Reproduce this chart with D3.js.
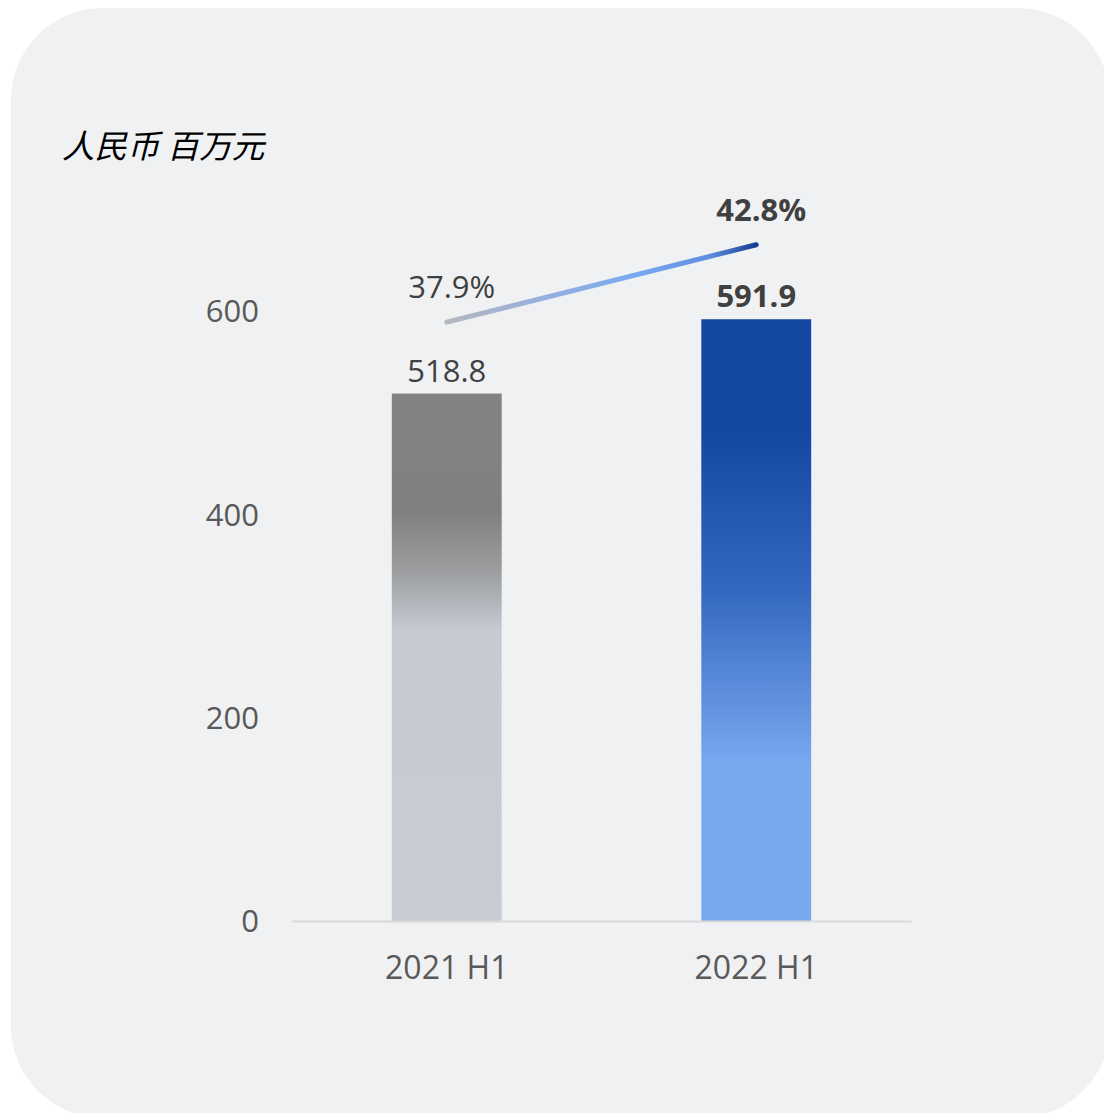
<!DOCTYPE html>
<html>
<head>
<meta charset="utf-8">
<script src="https://cdn.jsdelivr.net/npm/d3@7"></script>
<style>
  html, body { margin: 0; padding: 0; background: #ffffff; }
  svg { display: block; }
</style>
</head>
<body>
<svg id="chart" width="1104" height="1113"></svg>
<script>
// data
const categories = ['2021 H1', '2022 H1'];
const revenue = [518.8, 591.9];
const ratio = [37.9, 42.8];
const yTicks = [0, 200, 400, 600];
const unitLabel = '人民币 百万元';

const svg = d3.select('#chart');
const baseY = 921;

// panel
svg.append('rect')
  .attr('x', 11).attr('y', 8)
  .attr('width', 1099).attr('height', 1110)
  .attr('rx', 92).attr('ry', 92)
  .attr('fill', '#f0f1f3');

const defs = svg.append('defs');

function vGrad(id, stops) {
  const g = defs.append('linearGradient').attr('id', id)
    .attr('x1', 0).attr('y1', 0).attr('x2', 0).attr('y2', 1);
  stops.forEach(s => g.append('stop').attr('offset', s[0]).attr('stop-color', s[1]));
}
vGrad('g0', [[0, '#838383'], [0.226, '#808080'], [0.34, '#9c9ea0'], [0.448, '#c6cbd3'], [1, '#c8cdd4']]);
vGrad('g1', [[0, '#1448a0'], [0.184, '#1448a0'], [0.45, '#3468c0'], [0.738, '#7aa8ef'], [1, '#7aa8ef']]);

const x = d3.scaleBand().domain(categories).range([292, 911]).padding(0);
const barW = x.bandwidth() * 0.355;
const cx = c => x(c) + x.bandwidth() / 2;
const y = d3.scaleLinear().domain([0, 600]).range([baseY, 311]);
const y2 = d3.scaleLinear().domain([0, 50]).range([baseY, 131]);

// unit label
svg.append('text')
  .attr('x', 62).attr('y', 158)
  .attr('font-family', '"Noto Sans CJK SC", sans-serif')
  .attr('font-size', 32.5).attr('font-style', 'italic')
  .attr('fill', '#000')
  .text(unitLabel);

// y axis labels
const yAxis = d3.axisLeft(y).tickValues(yTicks).tickSize(0).tickPadding(0);
const ya = svg.append('g').attr('transform', 'translate(259,0)').call(yAxis);
ya.select('.domain').remove();
ya.selectAll('text')
  .attr('font-family', '"Open Sans", sans-serif')
  .attr('font-size', 31).attr('fill', '#595959')
  .attr('dy', '0.35em');

// bars
svg.selectAll('.bar').data(revenue).enter().append('rect').classed('bar', true)
  .attr('x', (d, i) => cx(categories[i]) - barW / 2)
  .attr('width', barW)
  .attr('y', d => y(d))
  .attr('height', d => baseY - y(d))
  .attr('fill', (d, i) => `url(#g${i})`);

// baseline + category labels
const xAxis = d3.axisBottom(x).tickSize(0).tickPadding(0);
const xa = svg.append('g').attr('transform', `translate(0,${baseY})`).call(xAxis);
xa.select('.domain').attr('stroke', '#d9d9d9').attr('stroke-width', 2);
xa.selectAll('text')
  .attr('font-family', '"Open Sans", sans-serif')
  .attr('font-size', 32).attr('fill', '#595959')
  .attr('dy', '1.82em');

// bar value labels
svg.selectAll('.val').data(revenue).enter().append('text').classed('val', true)
  .attr('x', (d, i) => cx(categories[i]))
  .attr('y', d => y(d) - 12)
  .attr('text-anchor', 'middle')
  .attr('font-family', '"Open Sans", sans-serif')
  .attr('font-size', 31)
  .attr('font-weight', (d, i) => i === 1 ? 'bold' : 'normal')
  .attr('fill', '#404040')
  .text(d => d.toFixed(1));

// ratio line
const pts = ratio.map((d, i) => [cx(categories[i]), y2(d)]);
const lg = defs.append('linearGradient').attr('id', 'lg')
  .attr('gradientUnits', 'userSpaceOnUse')
  .attr('x1', pts[0][0]).attr('y1', pts[0][1])
  .attr('x2', pts[1][0]).attr('y2', pts[1][1]);
[[0, '#b4b7bd'], [0.3, '#98b0de'], [0.6, '#7aaaf0'], [0.85, '#5e8ee0'], [1, '#143f90']]
  .forEach(s => lg.append('stop').attr('offset', s[0]).attr('stop-color', s[1]));

svg.append('path')
  .attr('d', d3.line()(pts))
  .attr('fill', 'none')
  .attr('stroke', 'url(#lg)')
  .attr('stroke-width', 5)
  .attr('stroke-linecap', 'round');

svg.selectAll('.pct').data(ratio).enter().append('text').classed('pct', true)
  .attr('x', (d, i) => pts[i][0] + 5)
  .attr('y', (d, i) => pts[i][1] - 24)
  .attr('text-anchor', 'middle')
  .attr('font-family', '"Open Sans", sans-serif')
  .attr('font-size', 31)
  .attr('font-weight', (d, i) => i === 1 ? 'bold' : 'normal')
  .attr('fill', '#404040')
  .text(d => d.toFixed(1) + '%');
</script>
</body>
</html>
